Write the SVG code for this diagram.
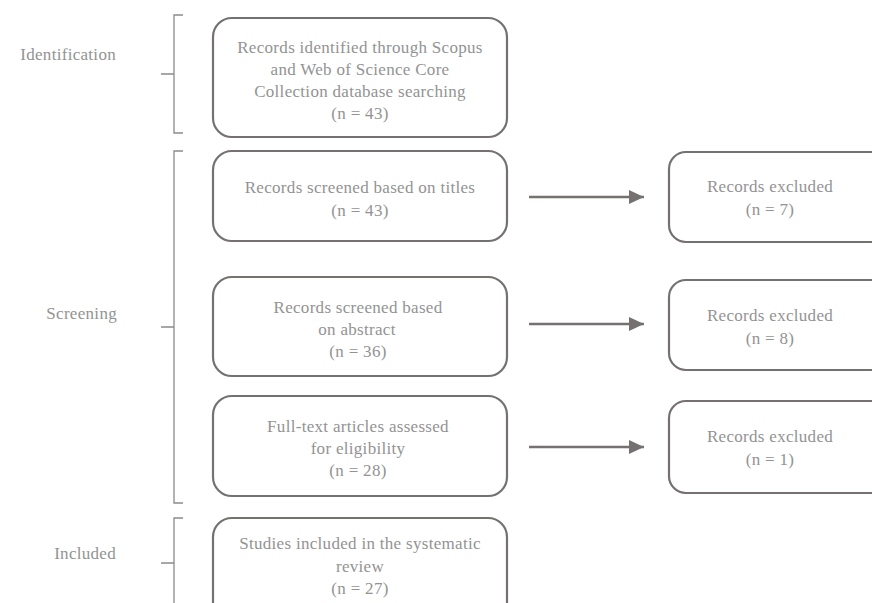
<svg xmlns="http://www.w3.org/2000/svg" width="872" height="603" viewBox="0 0 872 603">
<defs>
<style>
.box{fill:#fff;stroke:#767171;stroke-width:2.2}
.t{font-family:"Liberation Serif","Times New Roman",serif;font-size:17px;fill:#939393;text-anchor:middle;letter-spacing:0.3px}
.lab{font-family:"Liberation Serif","Times New Roman",serif;font-size:17px;fill:#939393;text-anchor:end;letter-spacing:0.3px}
.br{fill:none;stroke:#8a8a8a;stroke-width:1.3}
.ar{stroke:#767171;stroke-width:2.5;fill:none}
</style>
<marker id="ah" markerWidth="15" markerHeight="14" refX="15" refY="7" orient="auto" markerUnits="userSpaceOnUse">
<path d="M0,0 L15,7 L0,14 Z" fill="#767171"/>
</marker>
</defs>
<rect width="872" height="603" fill="#fff"/>
<g id="labels">
<text class="lab" x="116" y="60">Identification</text>
<path class="br" d="M183,15 H174 V133 H183 M161,74 H174"/>
<text class="lab" x="117" y="319">Screening</text>
<path class="br" d="M183,151 H174 V503 H183 M161,327 H174"/>
<text class="lab" x="116" y="559">Included</text>
<path class="br" d="M183,518 H174 V610 M161,563 H174"/>
</g>
<g id="connectors">
<line class="ar" x1="529" y1="197" x2="644" y2="197" marker-end="url(#ah)"/>
<line class="ar" x1="529" y1="324" x2="644" y2="324" marker-end="url(#ah)"/>
<line class="ar" x1="529" y1="447" x2="644" y2="447" marker-end="url(#ah)"/>
</g>
<g id="n1">
<rect class="box" x="213" y="18" width="294" height="119" rx="19"/>
<text class="t" x="360" y="53">Records identified through Scopus</text>
<text class="t" x="360" y="75">and Web of Science Core</text>
<text class="t" x="360" y="97">Collection database searching</text>
<text class="t" x="360" y="119">(n = 43)</text>
</g>
<g id="n2">
<rect class="box" x="213" y="151" width="294" height="90" rx="19"/>
<text class="t" x="360" y="193">Records screened based on titles</text>
<text class="t" x="360" y="216">(n = 43)</text>
</g>
<g id="n3">
<rect class="box" x="213" y="277" width="294" height="99" rx="19"/>
<text class="t" x="358" y="313">Records screened based</text>
<text class="t" x="357" y="335">on abstract</text>
<text class="t" x="358" y="357">(n = 36)</text>
</g>
<g id="n4">
<rect class="box" x="213" y="396" width="294" height="100" rx="19"/>
<text class="t" x="358" y="432">Full-text articles assessed</text>
<text class="t" x="358" y="454">for eligibility</text>
<text class="t" x="358" y="476">(n = 28)</text>
</g>
<g id="n5">
<rect class="box" x="213" y="518" width="294" height="110" rx="19"/>
<text class="t" x="360" y="549">Studies included in the systematic</text>
<text class="t" x="360" y="572">review</text>
<text class="t" x="360" y="594">(n = 27)</text>
</g>
<g id="r1">
<rect class="box" x="669" y="152" width="220" height="90" rx="17"/>
<text class="t" x="770" y="192">Records excluded</text>
<text class="t" x="770" y="215">(n = 7)</text>
</g>
<g id="r2">
<rect class="box" x="669" y="280" width="220" height="90" rx="17"/>
<text class="t" x="770" y="321">Records excluded</text>
<text class="t" x="770" y="344">(n = 8)</text>
</g>
<g id="r3">
<rect class="box" x="669" y="401" width="220" height="92" rx="17"/>
<text class="t" x="770" y="442">Records excluded</text>
<text class="t" x="770" y="465">(n = 1)</text>
</g>
</svg>
